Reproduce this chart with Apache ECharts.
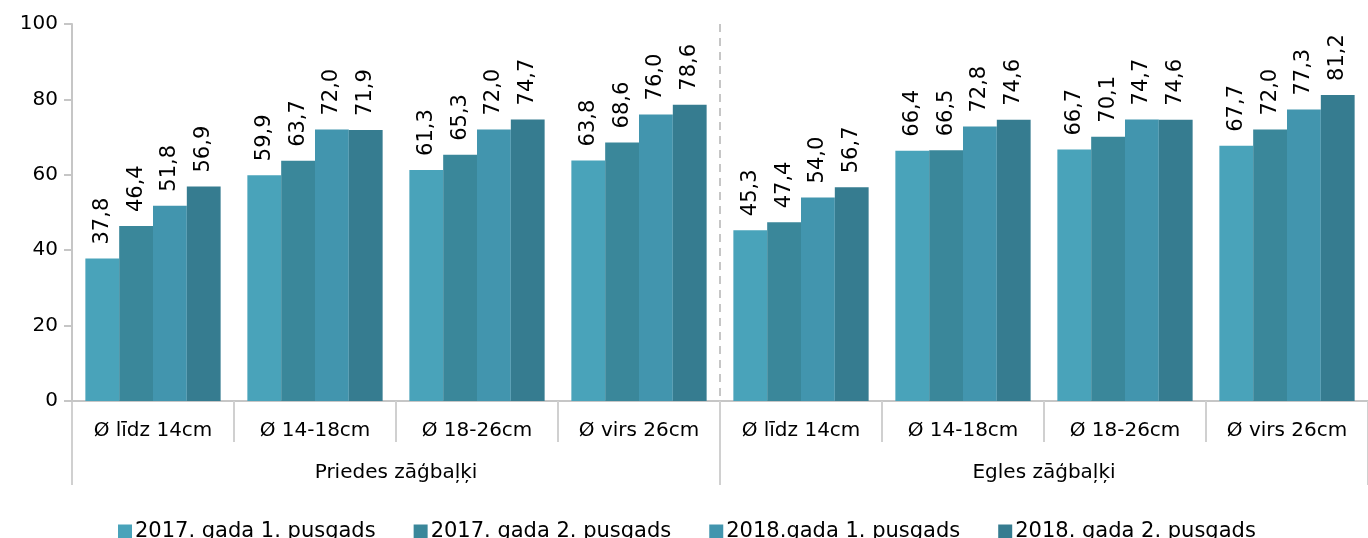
<!DOCTYPE html>
<html>
<head>
<meta charset="utf-8">
<script src="https://cdn.jsdelivr.net/npm/echarts@6/dist/echarts.min.js"></script>
<style>
html,body{margin:0;padding:0;background:#fff;}
#c{width:1368px;height:538px;}
</style>
</head>
<body>
<div id="c"></div>
<script>
const categories = ['Ø līdz 14cm','Ø 14-18cm','Ø 18-26cm','Ø virs 26cm','Ø līdz 14cm','Ø 14-18cm','Ø 18-26cm','Ø virs 26cm'];
const groups = ['Priedes zāģbaļķi','Egles zāģbaļķi'];
const seriesNames = ['2017. gada 1. pusgads','2017. gada 2. pusgads','2018.gada 1. pusgads','2018. gada 2. pusgads'];
const s2017h1 = [37.8, 59.9, 61.3, 63.8, 45.3, 66.4, 66.7, 67.7];
const s2017h2 = [46.4, 63.7, 65.3, 68.6, 47.4, 66.5, 70.1, 72.0];
const s2018h1 = [51.8, 72.0, 72.0, 76.0, 54.0, 72.8, 74.7, 77.3];
const s2018h2 = [56.9, 71.9, 74.7, 78.6, 56.7, 74.6, 74.6, 81.2];
const yTicks = {min:0, max:100, interval:20};

const colors = ['#49a3ba','#3a879a','#4295ae','#367c90'];
const FONT = 'DejaVu Sans';
const values = [s2017h1, s2017h2, s2018h1, s2018h2];
const nCat = categories.length;
const perGroup = nCat / groups.length;

const chart = echarts.init(document.getElementById('c'), null, {renderer:'canvas'});
chart.setOption({
  animation:false,
  textStyle:{fontFamily:FONT},
  grid:{left:72, top:24, width:1300, bottom:137, containLabel:false},
  legend:{
    data:seriesNames, bottom:-9, left:113,
    icon:'rect', itemWidth:14, itemHeight:14, itemGap:38,
    textStyle:{fontFamily:FONT, fontSize:21, color:'#000', padding:[0,0,0,-2]}
  },
  xAxis:[{
    type:'category', data:categories, position:'bottom',
    axisLine:{show:true, lineStyle:{color:'#c6c6c6', width:2}},
    axisTick:{show:true, length:41, interval:0, lineStyle:{color:'#d0d0d0', width:2}},
    axisLabel:{interval:0, fontFamily:FONT, fontSize:20, color:'#000', margin:20},
    splitLine:{show:false}
  },{
    type:'category', data:groups, position:'bottom', offset:0,
    axisLine:{show:false},
    axisTick:{show:true, length:84, interval:0, lineStyle:{color:'#d0d0d0', width:2}},
    axisLabel:{interval:0, fontFamily:FONT, fontSize:20, color:'#000', margin:62},
    splitLine:{show:false}
  },{
    type:'value', min:0, max:nCat, interval:perGroup, position:'top',
    axisLine:{show:false}, axisTick:{show:false}, axisLabel:{show:false},
    splitLine:{show:true, showMinLine:false, showMaxLine:false, lineStyle:{color:'#c6c6c6', type:[8,6], width:2}}
  }],
  yAxis:{
    type:'value', min:yTicks.min, max:yTicks.max, interval:yTicks.interval,
    axisLine:{show:true, lineStyle:{color:'#c6c6c6', width:2}},
    axisTick:{show:true, length:8, lineStyle:{color:'#c6c6c6', width:2}},
    axisLabel:{fontFamily:FONT, fontSize:20, color:'#000', margin:14},
    splitLine:{show:false},
    z:5
  },
  series: values.map((d,i)=>({
    name:seriesNames[i], type:'bar', data:d, xAxisIndex:0,
    barGap:'0%', barCategoryGap:'16.5%',
    itemStyle:{color:colors[i]},
    label:{show:true, position:'top', rotate:90, align:'left', verticalAlign:'middle', distance:14,
      fontFamily:FONT, fontSize:21, color:'#000',
      formatter:p=>p.value.toFixed(1).replace('.',',')}
  }))
});
</script>
</body>
</html>
